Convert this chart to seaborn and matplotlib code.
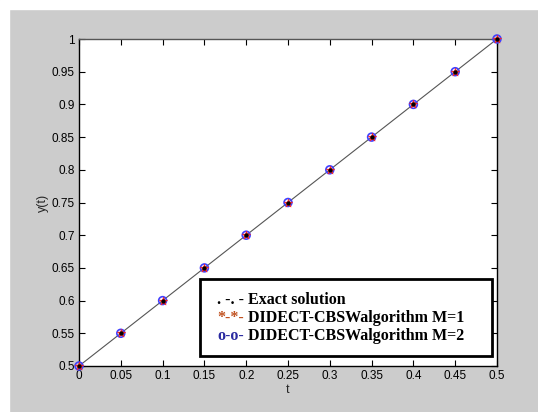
import numpy as np
import pandas as pd
import seaborn as sns
import matplotlib.pyplot as plt
from matplotlib.patches import Rectangle

# values
t = [0.0, 0.05, 0.1, 0.15, 0.2, 0.25, 0.3, 0.35, 0.4, 0.45, 0.5]
y_exact = [0.5, 0.55, 0.6, 0.65, 0.7, 0.75, 0.8, 0.85, 0.9, 0.95, 1.0]
y_m1 = [0.5, 0.55, 0.6, 0.65, 0.7, 0.75, 0.8, 0.85, 0.9, 0.95, 1.0]
y_m2 = [0.5, 0.55, 0.6, 0.65, 0.7, 0.75, 0.8, 0.85, 0.9, 0.95, 1.0]
xticks = [0, 0.05, 0.1, 0.15, 0.2, 0.25, 0.3, 0.35, 0.4, 0.45, 0.5]
yticks = [0.5, 0.55, 0.6, 0.65, 0.7, 0.75, 0.8, 0.85, 0.9, 0.95, 1.0]
legend_labels = ["Exact solution", "DIDECT-CBSWalgorithm M=1", "DIDECT-CBSWalgorithm M=2"]
legend_prefix = [". -. -", "*-*-", "o-o-"]
legend_colors = ["black", "#c0501e", "#2a2aa0"]

df = pd.DataFrame({"t": t, "exact": y_exact, "m1": y_m1, "m2": y_m2})

sns.set_style("ticks")
plt.rcParams['font.family'] = ['Liberation Sans', 'DejaVu Sans']

fig = plt.figure(figsize=(5.38, 4.12), dpi=100, facecolor="#cccccc")
# white strip on top/left edge as in the screenshot
fig.patches.append(Rectangle((0, 0), 9 / 538, 1, transform=fig.transFigure,
                             color="white", zorder=-1))
fig.patches.append(Rectangle((0, 1 - 9 / 412), 1, 9 / 412, transform=fig.transFigure,
                             color="white", zorder=-1))

ax = fig.add_axes([79 / 538, 46 / 412, 418 / 538, 327 / 412])
ax.set_facecolor("white")

sns.lineplot(data=df, x="t", y="exact", ax=ax, color="#555555", linewidth=0.8)
sns.scatterplot(data=df, x="t", y="m2", ax=ax, marker="o", s=32, facecolor="none",
                edgecolor="#4040ff", linewidth=1.2, zorder=3, clip_on=False)
sns.scatterplot(data=df, x="t", y="m1", ax=ax, marker="*", s=40, color="#ff2020",
                edgecolor="#ff2020", linewidth=0.4, zorder=4, clip_on=False)
sns.scatterplot(data=df, x="t", y="exact", ax=ax, marker="o", s=8, color="black",
                edgecolor="black", zorder=5, clip_on=False)

ax.set_xlim(0, 0.5)
ax.set_ylim(0.5, 1.0)
ax.set_xticks(xticks)
ax.set_yticks(yticks)
ax.set_xticklabels([f"{v:g}" for v in xticks])
ax.set_yticklabels([f"{v:g}" for v in yticks])
ax.tick_params(direction="in", top=True, right=True, length=4, width=0.8,
               labelsize=8.5, colors="black", pad=3)
for s in ax.spines.values():
    s.set_visible(True)
    s.set_color("black")
    s.set_linewidth(1.0)
ax.spines["top"].set_color("#555555")
ax.set_xlabel("t", fontsize=9, labelpad=1)
ax.set_ylabel("y(t)", fontsize=9, labelpad=2)

# legend box drawn by hand: prefixes in their own colours
ax.add_patch(Rectangle((0.289, 0.031), 0.699, 0.235, transform=ax.transAxes,
                       facecolor="white", edgecolor="black", linewidth=2.0, zorder=6))
for i, (pre, lab, col) in enumerate(zip(legend_prefix, legend_labels, legend_colors)):
    yy = 0.202 - i * 0.055
    ax.text(0.33, yy, pre, transform=ax.transAxes, color=col, fontsize=11.5,
            fontweight="bold", family="Liberation Serif", va="center", zorder=7)
    ax.text(0.404, yy, lab, transform=ax.transAxes, color="black", fontsize=11.5,
            fontweight="bold", family="Liberation Serif", va="center", zorder=7)

fig.savefig("out.png", dpi=100, facecolor=fig.get_facecolor())
